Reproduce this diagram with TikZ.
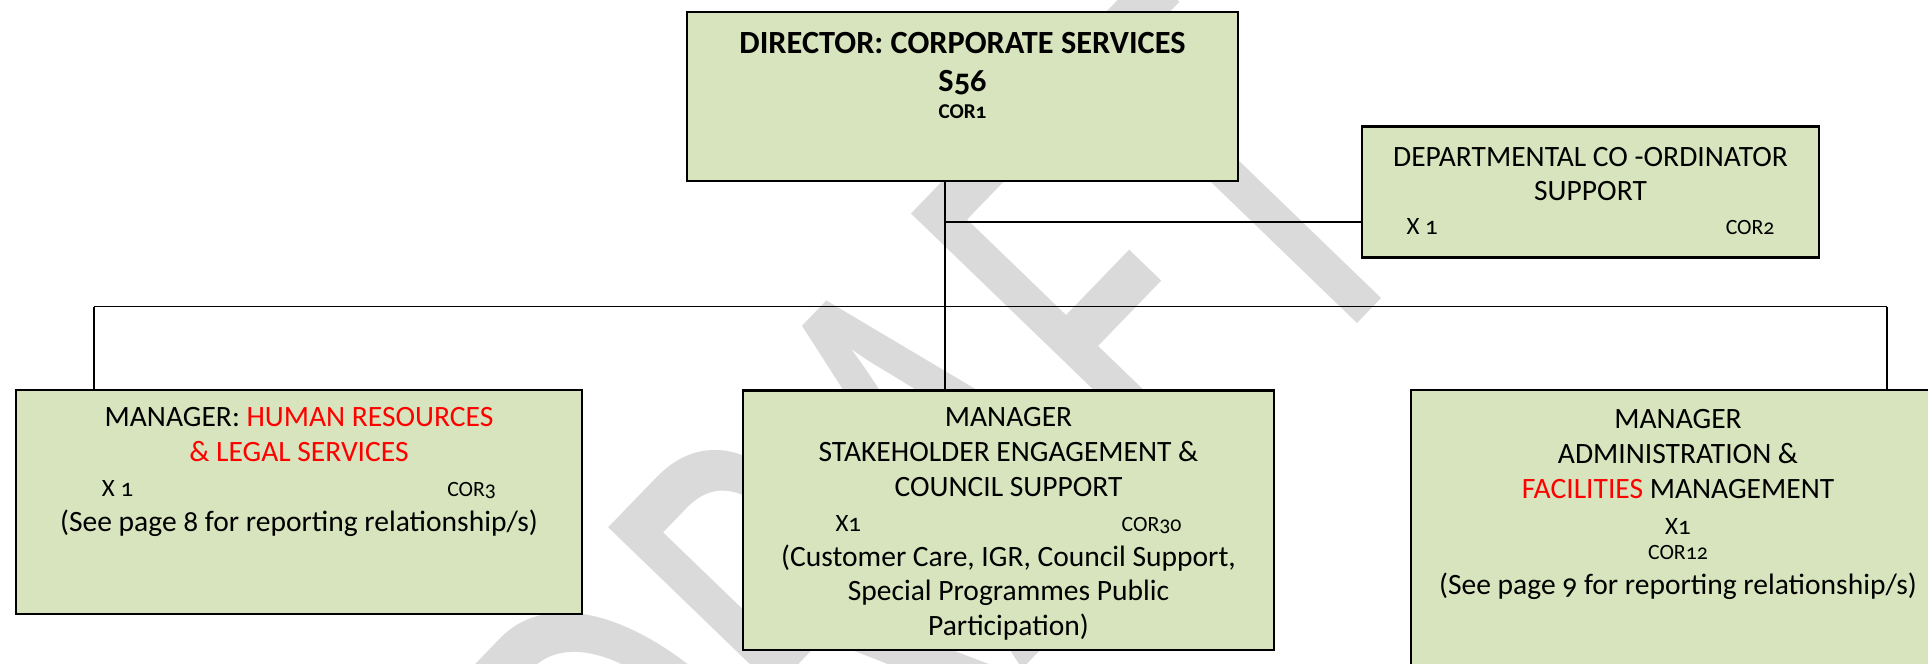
\documentclass[tikz,border=0pt]{standalone}
\usepackage{fontspec}
\setmainfont{Carlito}[Numbers=OldStyle]
\usepackage{graphicx}
\usepackage{tikz}
\usetikzlibrary{positioning}
\definecolor{postfill}{RGB}{215,228,189}
\definecolor{draftgrey}{RGB}{218,218,218}
\newcommand{\headcount}[1]{{\fontsize{7.1}{8}\selectfont #1}}
\newcommand{\postcode}[1]{{\fontsize{6.2}{7}\selectfont #1}}

\begin{document}
\begin{tikzpicture}[
  post/.style={draw=black, line width=0.7pt, fill=postfill, inner sep=0pt},
  posttext/.style={align=center, inner sep=0pt, font=\fontsize{8.4}{9.95}\selectfont},
  link/.style={line width=0.55pt},
  draftmark/.style={text=draftgrey, inner sep=0pt, font=\fontsize{111}{111}\selectfont}
]
\useasboundingbox (0,0) rectangle (19.28,6.63);
\node[draftmark, rotate=46] (draft) at (9.289,1.817) {\scalebox{1}[1.585]{DRAFT}};

\node[post, minimum width=5.51cm, minimum height=1.69cm] (dir) at (9.625,5.665) {};
\node[post, minimum width=4.57cm, minimum height=1.31cm] (coord) at (15.905,4.71) {};
\node[post, minimum width=5.66cm, minimum height=2.24cm] (hr) at (2.99,1.61) {};
\node[post, minimum width=5.31cm, minimum height=2.595cm] (stake) at (10.085,1.4275) {};
\node[post, minimum width=5.34cm, minimum height=3.1cm] (admin) at (16.78,1.18) {};

\node[posttext, font=\bfseries\fontsize{9.2}{7.8}\selectfont, below=0.21cm of dir.north] (dirtext)
  {DIRECTOR: CORPORATE SERVICES\\[2.9pt] S56\\ {\fontsize{6}{6}\selectfont COR1}};
\node[posttext, font=\fontsize{8.4}{9.7}\selectfont, below=0.21cm of coord.north] (coordtext)
  {DEPARTMENTAL CO -ORDINATOR\\ SUPPORT\\ \makebox[3.68cm]{\headcount{X 1}\hfill\postcode{COR2}}};
\node[posttext, below=0.18cm of hr.north] (hrtext)
  {MANAGER: {\color{red}HUMAN RESOURCES}\\ {\color{red}\& LEGAL SERVICES}\\
   \makebox[3.94cm]{\headcount{X 1}\hfill\postcode{COR3}}\\ (See page 8 for reporting relationship/s)};
\node[posttext, below=0.17cm of stake.north] (staketext)
  {MANAGER\\ STAKEHOLDER ENGAGEMENT \&\\ COUNCIL SUPPORT\\
   \makebox[3.46cm]{\headcount{X1}\hfill\postcode{COR30}}\\
   (Customer Care, IGR, Council Support,\\ Special Programmes Public\\ Participation)};
\node[posttext, font=\fontsize{8.4}{10}\selectfont, below=0.2cm of admin.north] (admintext)
  {MANAGER\\ ADMINISTRATION \&\\ {\color{red}FACILITIES} MANAGEMENT\\ \headcount{X1}\\[-2.7pt]
   \postcode{COR12}\\[0pt] (See page 9 for reporting relationship/s)};

\coordinate (tee) at (9.45,4.41);
\coordinate (busL) at (0.94,3.565);
\coordinate (busR) at (18.87,3.565);
\draw[link] (dir.south -| tee) -- (stake.north -| tee);
\draw[link] (tee) -- (tee -| coord.west);
\draw[link] (busL) -- (busR);
\draw[link] (busL) -- (busL |- hr.north);
\draw[link] (busR) -- (busR |- admin.north);
\end{tikzpicture}
\end{document}
